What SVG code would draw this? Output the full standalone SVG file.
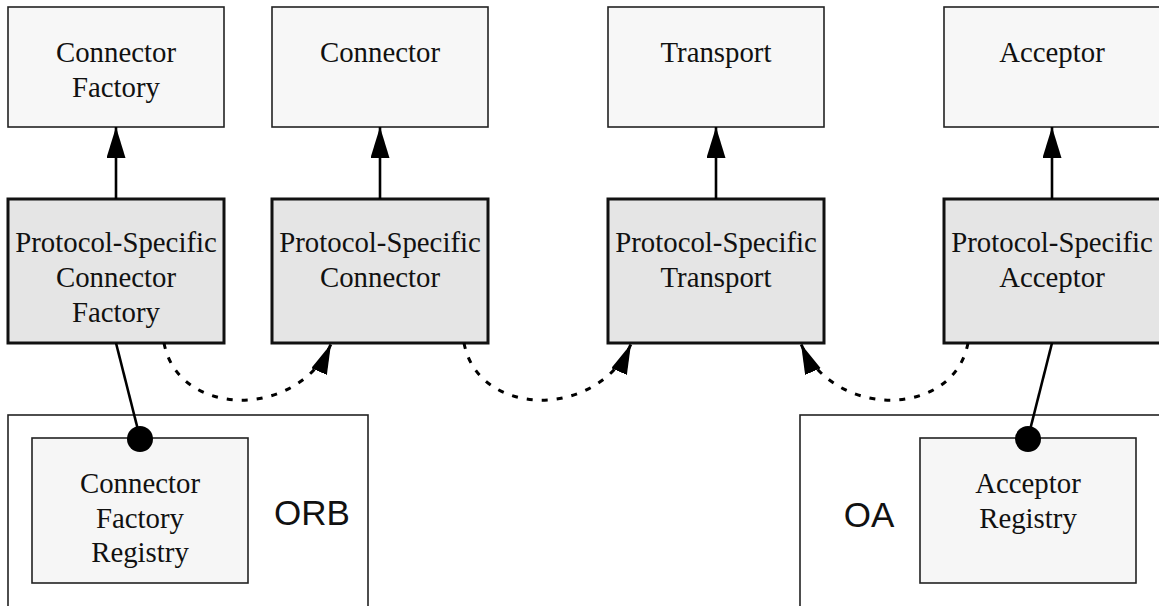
<svg xmlns="http://www.w3.org/2000/svg" width="1159" height="606" viewBox="0 0 1159 606">
  <style>
    .base { fill: #f7f7f7; stroke: #222; stroke-width: 1.6; }
    .ps { fill: #e5e5e5; stroke: #111; stroke-width: 3; }
    .outer { fill: #fff; stroke: #222; stroke-width: 1.6; }
    .reg { fill: #f6f6f6; stroke: #222; stroke-width: 1.6; }
    .lbl { font-family: "Liberation Serif", "Times New Roman", serif; font-size: 28.8px; fill: #111; text-anchor: middle; }
    .big { font-family: "Liberation Sans", Arial, sans-serif; font-size: 35px; fill: #111; text-anchor: middle; }
    .solid { fill: none; stroke: #000; stroke-width: 2.6; }
    .dashed { fill: none; stroke: #000; stroke-width: 3; stroke-dasharray: 6 9; }
  </style>
  <defs>
    <marker id="tri" markerUnits="userSpaceOnUse" markerWidth="32" markerHeight="20" refX="31" refY="9.5" orient="auto">
      <path d="M0,0 L31,9.5 L0,19 Z" fill="#000"/>
    </marker>
    <marker id="tri2" markerUnits="userSpaceOnUse" markerWidth="31" markerHeight="18" refX="30" refY="8.5" orient="auto">
      <path d="M0,0 L30,8.5 L0,17 Z" fill="#000"/>
    </marker>
  </defs>

  <!-- containers -->
  <g id="orb">
    <rect class="outer" x="8" y="415" width="360" height="220"/>
    <text class="big" x="312" y="525">ORB</text>
  </g>
  <g id="oa">
    <rect class="outer" x="800" y="415" width="380" height="220"/>
    <text class="big" x="869" y="527">OA</text>
  </g>

  <!-- abstract components -->
  <g id="connector-factory">
    <rect class="base" x="8" y="7" width="216" height="120"/>
    <text class="lbl" x="116" y="62">Connector</text>
    <text class="lbl" x="116" y="97">Factory</text>
  </g>
  <g id="connector">
    <rect class="base" x="272" y="7" width="216" height="120"/>
    <text class="lbl" x="380" y="62">Connector</text>
  </g>
  <g id="transport">
    <rect class="base" x="608" y="7" width="216" height="120"/>
    <text class="lbl" x="716" y="62">Transport</text>
  </g>
  <g id="acceptor">
    <rect class="base" x="944" y="7" width="230" height="120"/>
    <text class="lbl" x="1052" y="62">Acceptor</text>
  </g>

  <!-- protocol-specific components -->
  <g id="ps-connector-factory">
    <rect class="ps" x="8" y="199" width="216" height="144"/>
    <text class="lbl" x="116" y="252">Protocol-Specific</text>
    <text class="lbl" x="116" y="287">Connector</text>
    <text class="lbl" x="116" y="322">Factory</text>
  </g>
  <g id="ps-connector">
    <rect class="ps" x="272" y="199" width="216" height="144"/>
    <text class="lbl" x="380" y="252">Protocol-Specific</text>
    <text class="lbl" x="380" y="287">Connector</text>
  </g>
  <g id="ps-transport">
    <rect class="ps" x="608" y="199" width="216" height="144"/>
    <text class="lbl" x="716" y="252">Protocol-Specific</text>
    <text class="lbl" x="716" y="287">Transport</text>
  </g>
  <g id="ps-acceptor">
    <rect class="ps" x="944" y="199" width="230" height="144"/>
    <text class="lbl" x="1052" y="252">Protocol-Specific</text>
    <text class="lbl" x="1052" y="287">Acceptor</text>
  </g>

  <!-- registries -->
  <g id="connector-factory-registry">
    <rect class="reg" x="32" y="438" width="216" height="145"/>
    <text class="lbl" x="140" y="493">Connector</text>
    <text class="lbl" x="140" y="528">Factory</text>
    <text class="lbl" x="140" y="562">Registry</text>
  </g>
  <g id="acceptor-registry">
    <rect class="reg" x="920" y="438" width="216" height="145"/>
    <text class="lbl" x="1028" y="493">Acceptor</text>
    <text class="lbl" x="1028" y="528">Registry</text>
  </g>

  <!-- connectors -->
  <g id="edges">
    <line class="solid" x1="116" y1="199" x2="116" y2="127" marker-end="url(#tri)"/>
    <line class="solid" x1="380" y1="199" x2="380" y2="127" marker-end="url(#tri)"/>
    <line class="solid" x1="716" y1="199" x2="716" y2="127" marker-end="url(#tri)"/>
    <line class="solid" x1="1052" y1="199" x2="1052" y2="127" marker-end="url(#tri)"/>

    <path class="dashed" d="M164,343 C178,418 298,420 331,344" marker-end="url(#tri2)"/>
    <path class="dashed" d="M464,343 C478,418 598,420 631,344" marker-end="url(#tri2)"/>
    <path class="dashed" d="M968,343 C954,418 834,420 801,344" marker-end="url(#tri2)"/>

    <line class="solid" x1="116" y1="343" x2="138" y2="430"/>
    <circle cx="140" cy="439" r="13" fill="#000"/>
    <line class="solid" x1="1052" y1="343" x2="1030" y2="430"/>
    <circle cx="1028" cy="439" r="13" fill="#000"/>
  </g>
</svg>
